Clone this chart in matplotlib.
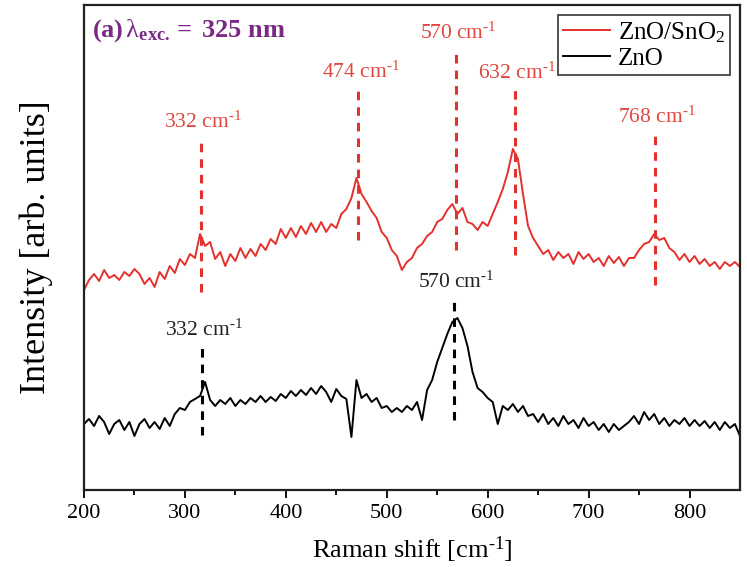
import matplotlib
matplotlib.use("Agg")
import matplotlib.pyplot as plt
import numpy as np

# ---------------- data ----------------
shift = list(range(200, 851, 5))  # Raman shift [cm^-1]

zno_sno2 = [204, 214, 220, 213, 224, 216, 219, 214, 222, 218,
            225, 220, 210, 216, 207, 222, 215, 228, 221, 235,
            229, 240, 236, 260, 248, 252, 235, 242, 228, 240,
            233, 246, 236, 245, 238, 250, 244, 255, 250, 265,
            256, 266, 257, 268, 260, 271, 262, 272, 262, 270,
            266, 280, 285, 296, 316, 300, 292, 283, 276, 262,
            256, 244, 238, 224, 232, 236, 246, 250, 258, 262,
            272, 275, 284, 290, 280, 286, 272, 270, 264, 272,
            268, 280, 292, 305, 322, 345, 335, 300, 268, 256,
            248, 240, 244, 234, 242, 236, 240, 230, 242, 235,
            240, 232, 236, 228, 238, 231, 237, 228, 236, 236,
            244, 250, 252, 260, 254, 256, 246, 242, 234, 240,
            232, 238, 230, 235, 228, 232, 225, 232, 228, 232,
            227]

zno = [70, 75, 68, 78, 72, 60, 70, 74, 64, 72,
       58, 70, 75, 66, 72, 65, 76, 68, 80, 86,
       84, 92, 95, 98, 112, 94, 88, 94, 90, 96,
       88, 94, 90, 96, 92, 98, 92, 97, 93, 100,
       96, 103, 98, 104, 99, 106, 100, 108, 102, 92,
       105, 98, 95, 57, 114, 96, 100, 92, 96, 86,
       88, 82, 86, 82, 88, 84, 92, 74, 104, 114,
       132, 146, 160, 172, 176, 166, 148, 122, 106, 102,
       96, 92, 70, 88, 84, 90, 82, 88, 78, 80,
       72, 80, 70, 76, 68, 78, 70, 74, 66, 76,
       68, 72, 64, 70, 62, 70, 64, 68, 72, 78,
       70, 82, 74, 80, 70, 76, 68, 74, 70, 76,
       68, 74, 68, 73, 66, 72, 64, 72, 66, 70,
       58]

series_labels = ["ZnO/SnO$_2$", "ZnO"]

red_peaks = [316, 472, 569, 627, 766]
red_peak_labels = ["332", "474", "570", "632", "768"]
red_line_top = [357, 407, 446, 406, 362]
red_line_bottom = [202, 254, 244, 239, 209]

black_peaks = [317, 567]
black_peak_labels = ["332", "570"]
black_line_top = [149, 197]
black_line_bottom = [59, 74]

xticks = [200, 300, 400, 500, 600, 700, 800]

# ---------------- styling ----------------
plt.rcParams["font.family"] = ["Liberation Serif", "DejaVu Serif"]
plt.rcParams["mathtext.fontset"] = "custom"
plt.rcParams["mathtext.rm"] = "Liberation Serif"
plt.rcParams["mathtext.it"] = "Liberation Serif:italic"
plt.rcParams["mathtext.bf"] = "Liberation Serif:bold"

RED = "#E3312D"
RED_TXT = "#E0463F"
PURPLE = "#7A2A84"

SUP = r"$^{\mathrm{\text{-}1}}$"

fig = plt.figure(figsize=(7.47, 5.67), dpi=100)
ax = fig.add_axes([0.1124, 0.1358, 0.8782, 0.8554])

ax.plot(shift, zno_sno2, color=RED, lw=1.4, label=series_labels[0])
ax.plot(shift, zno, color="black", lw=1.4, label=series_labels[1])

for x, lab, top, bot in zip(red_peaks, red_peak_labels, red_line_top, red_line_bottom):
    ax.plot([x, x], [bot, top], color=RED, lw=2.2, ls=(0, (2.8, 2.3)))
    ax.text(x + 2, top + 4, lab + " cm" + SUP, color=RED_TXT,
            fontsize=15.5, ha="center", va="bottom")

for x, lab, top, bot in zip(black_peaks, black_peak_labels, black_line_top, black_line_bottom):
    ax.plot([x, x], [bot, top], color="black", lw=2.2, ls=(0, (2.8, 2.3)))
    ax.text(x + 2, top + 4, lab + " cm" + SUP, color="#222222",
            fontsize=15.5, ha="center", va="bottom")

ax.set_xlim(200, 850)
ax.set_ylim(4, 489)
ax.set_xticks(xticks)
ax.set_xticks(list(range(250, 850, 100)), minor=True)
ax.set_yticks([])
ax.tick_params(axis="x", which="major", direction="out", length=6, width=1.3,
               labelsize=16, pad=4)
ax.tick_params(axis="x", which="minor", direction="out", length=3.5, width=1.3)
for s in ax.spines.values():
    s.set_linewidth(1.6)
    s.set_color("#222222")

ax.set_xlabel("Raman shift [cm" + SUP + "]", fontsize=19, labelpad=8)
ax.set_ylabel("Intensity [arb. units]", fontsize=26, labelpad=22)

ax.text(0.012, 0.975,
        r"$\mathbf{(a)}\,\mathrm{\lambda}_{\mathbf{exc.}}\mathbf{=\ 325\ nm}$",
        transform=ax.transAxes, color=PURPLE, fontsize=19, ha="left", va="top")

leg = ax.legend(loc="upper right", fontsize=18, frameon=True, fancybox=False,
                edgecolor="black", handlelength=1.9, handletextpad=0.3,
                borderpad=0.2, labelspacing=0.1, borderaxespad=0.4)
leg.get_frame().set_linewidth(1.2)

fig.savefig("out.png", dpi=100)
